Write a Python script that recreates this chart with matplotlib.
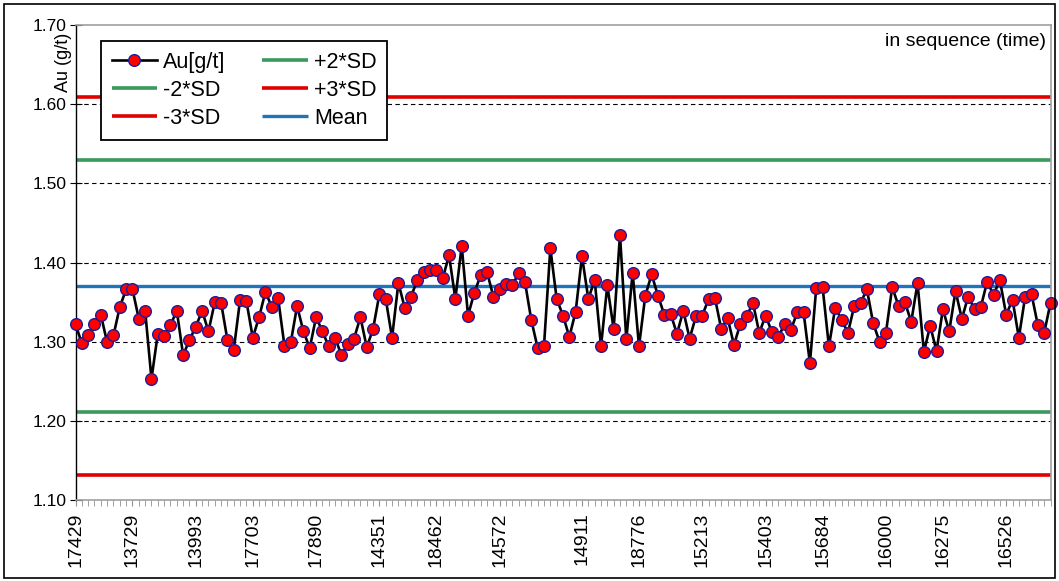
import matplotlib.pyplot as plt
from matplotlib.patches import Rectangle
import numpy as np

plt.rcParams['font.family'] = ['Liberation Sans', 'DejaVu Sans']

# Au assay values in sequence
au = [1.322, 1.298, 1.308, 1.322, 1.334, 1.299, 1.308, 1.344, 1.366, 1.366,
      1.329, 1.339, 1.253, 1.310, 1.307, 1.321, 1.339, 1.283, 1.302, 1.319,
      1.339, 1.313, 1.350, 1.349, 1.302, 1.290, 1.353, 1.351, 1.305, 1.331,
      1.363, 1.344, 1.355, 1.295, 1.299, 1.345, 1.313, 1.292, 1.331, 1.313,
      1.294, 1.305, 1.283, 1.297, 1.304, 1.331, 1.293, 1.316, 1.360, 1.354,
      1.305, 1.374, 1.343, 1.357, 1.378, 1.388, 1.390, 1.391, 1.380, 1.409,
      1.354, 1.421, 1.333, 1.362, 1.384, 1.388, 1.357, 1.366, 1.373, 1.371,
      1.387, 1.375, 1.327, 1.292, 1.295, 1.418, 1.354, 1.333, 1.306, 1.338,
      1.408, 1.354, 1.378, 1.294, 1.371, 1.316, 1.435, 1.303, 1.387, 1.294,
      1.358, 1.385, 1.358, 1.334, 1.335, 1.310, 1.339, 1.304, 1.332, 1.333,
      1.354, 1.355, 1.316, 1.330, 1.296, 1.322, 1.332, 1.349, 1.311, 1.333,
      1.312, 1.306, 1.322, 1.315, 1.337, 1.337, 1.273, 1.368, 1.369, 1.294,
      1.343, 1.328, 1.311, 1.345, 1.349, 1.366, 1.323, 1.300, 1.311, 1.369,
      1.345, 1.350, 1.325, 1.374, 1.287, 1.320, 1.288, 1.341, 1.313, 1.364,
      1.329, 1.357, 1.341, 1.344, 1.376, 1.359, 1.378, 1.334, 1.353, 1.305,
      1.357, 1.360, 1.321, 1.311, 1.349]

# sample ids shown on the x axis and where they sit in the sequence
id_labels = ['17429', '13729', '13993', '17703', '17890', '14351', '18462', '14572',
             '14911', '18776', '15213', '15403', '15684', '16000', '16275', '16526']
id_index = [0, 9, 19, 28, 38, 48, 57, 67, 80, 89, 99, 109, 118, 128, 137, 147]

mean = 1.370
sd = 0.0795

x = np.arange(len(au))

fig = plt.figure(figsize=(10.59, 5.81), dpi=100)
ax = fig.add_axes([75.5/1059, 81/581, 975/1059, 475/581])

# control limits
l_p2, = ax.plot([0, len(au)-1], [mean+2*sd]*2, color='#3a9a5c', lw=2.6, solid_capstyle='butt')
l_m2, = ax.plot([0, len(au)-1], [mean-2*sd]*2, color='#3a9a5c', lw=2.6, solid_capstyle='butt')
l_p3, = ax.plot([0, len(au)-1], [mean+3*sd]*2, color='#e00000', lw=2.6, solid_capstyle='butt')
l_m3, = ax.plot([0, len(au)-1], [mean-3*sd]*2, color='#e00000', lw=2.6, solid_capstyle='butt')
l_mean, = ax.plot([0, len(au)-1], [mean]*2, color='#1f74bc', lw=2.4, solid_capstyle='butt')

l_au, = ax.plot(x, au, color='black', lw=1.9, marker='o', ms=8.4,
                mfc='#ff0000', mec='#1c1c9c', mew=1.0, zorder=5, clip_on=False)

ax.set_xlim(0, len(au)-1)
ax.set_ylim(1.10, 1.70)
ax.set_yticks(np.arange(1.10, 1.701, 0.10))
ax.set_yticklabels(['%.2f' % v for v in np.arange(1.10, 1.701, 0.10)], fontsize=12.5)
for g in np.arange(1.20, 1.61, 0.10):
    ax.axhline(g, color='black', lw=0.8, ls=(0, (4, 3)), zorder=1)

ax.set_xticks(id_index)
ax.set_xticklabels(id_labels, rotation=90, fontsize=14)
ax.set_xticks(x, minor=True)
ax.tick_params(axis='x', which='both', direction='out', length=4, color='#909090', pad=5)
ax.tick_params(axis='y', direction='inout', length=9, color='black', pad=2)

for s in ['top', 'right', 'bottom']:
    ax.spines[s].set_color('#a0a0a0')
    ax.spines[s].set_linewidth(1.2)
ax.spines['left'].set_color('black')
ax.spines['left'].set_linewidth(1.0)

leg = ax.legend([l_au, l_m2, l_m3, l_p2, l_p3, l_mean],
                ['Au[g/t]', '-2*SD', '-3*SD', '+2*SD', '+3*SD', 'Mean'],
                ncol=2, loc='upper left', bbox_to_anchor=((101-75.5)/975, (500-41)/475),
                borderaxespad=0, fontsize=15.5, handlelength=2.1, handletextpad=0.3,
                columnspacing=1.7, labelspacing=0.33, borderpad=0.5, fancybox=False,
                framealpha=1, edgecolor='black')
leg.get_frame().set_linewidth(1.3)
leg.set_zorder(10)

ax.text(0.9955, 0.965, 'in sequence (time)', transform=ax.transAxes,
        ha='right', va='center', fontsize=14)

fig.text(63/1059, 1 - 62/581, 'Au (g/t)', rotation=90, ha='center', va='center', fontsize=13)

# chart border
fig.patches.append(Rectangle((4/1059, 3/581), 1051/1059, 574/581, transform=fig.transFigure,
                             fill=False, edgecolor='black', lw=1.2))

fig.savefig('out.png', dpi=100)
